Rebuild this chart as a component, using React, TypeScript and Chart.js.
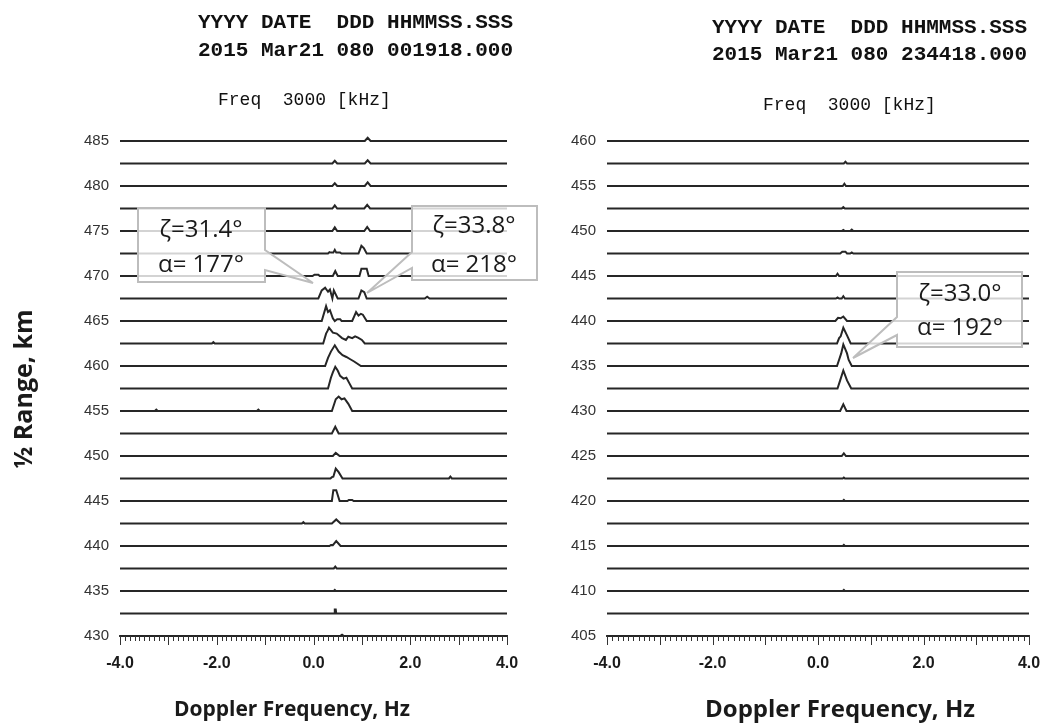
import React, { useEffect, useRef } from "react";
import { Chart, registerables } from "chart.js";
Chart.register(...registerables);

// ---------- data ----------
const FREQ_MIN = -4;
const FREQ_MAX = 4;
const MINOR_STEP = 0.1;
const X_TICKS = [-4, -2, 0, 2, 4];

const LEFT_Y_MIN = 430;
const LEFT_Y_MAX = 487;
const LEFT_Y_TICKS = [430, 435, 440, 445, 450, 455, 460, 465, 470, 475, 480, 485];
const LEFT_RANGES = [485, 482.5, 480, 477.5, 475, 472.5, 470, 467.5, 465, 462.5, 460, 457.5, 455, 452.5, 450, 447.5, 445, 442.5, 440, 437.5, 435, 432.5, 430];
// spectrum points per range: [Doppler Hz, amplitude (km above baseline)]
const LEFT_SPECTRA: number[][][] = [
  [[1.06, 0], [1.12, 0.35], [1.18, 0]],
  [[0.39, 0], [0.44, 0.3], [0.49, 0], [1.06, 0], [1.12, 0.35], [1.18, 0]],
  [[0.39, 0], [0.44, 0.3], [0.49, 0], [1.06, 0], [1.12, 0.4], [1.18, 0]],
  [[0.39, 0], [0.44, 0.35], [0.49, 0], [1.05, 0], [1.11, 0.4], [1.17, 0]],
  [[0.39, 0], [0.44, 0.4], [0.49, 0], [1.05, 0], [1.11, 0.45], [1.17, 0]],
  [[0.3, 0], [0.33, 0.15], [0.36, 0.1], [0.41, 0.1], [0.44, 0.4], [0.47, 0.1], [0.55, 0.1], [0.58, 0], [0.93, 0], [0.99, 0.85], [1.04, 0.6], [1.1, 0]],
  [[-0.02, 0], [0.02, 0.15], [0.1, 0.15], [0.13, 0], [0.4, 0], [0.45, 0.55], [0.5, 0], [0.95, 0], [0.99, 0.8], [1.1, 0.8], [1.14, 0]],
  [[0.1, 0], [0.17, 0.9], [0.24, 1.2], [0.3, 0.75], [0.34, 1.0], [0.39, 0], [0.42, 0.9], [0.5, 0], [0.93, 0], [0.99, 0.9], [1.05, 0.7], [1.1, 0], [2.3, 0], [2.35, 0.2], [2.4, 0]],
  [[0.17, 0], [0.26, 1.65], [0.3, 1.0], [0.34, 1.2], [0.4, 0.3], [0.44, 0], [0.49, 0.2], [0.55, 0.2], [0.58, 0], [0.8, 0], [0.88, 1.0], [0.93, 0.6], [0.98, 0.8], [1.02, 0.7], [1.1, 0]],
  [[-2.1, 0], [-2.07, 0.15], [-2.04, 0], [0.2, 0], [0.26, 1.1], [0.29, 1.4], [0.32, 1.75], [0.4, 1.2], [0.48, 1.1], [0.59, 0.6], [0.67, 0.4], [0.72, 0.75], [0.8, 0.6], [0.86, 0.8], [0.92, 0.65], [1.0, 0.4], [1.06, 0]],
  [[0.24, 0], [0.3, 0.9], [0.36, 1.6], [0.44, 2.3], [0.52, 1.6], [0.6, 1.2], [0.68, 1.0], [0.76, 0.75], [0.84, 0.5], [0.98, 0]],
  [[0.3, 0], [0.36, 1.2], [0.4, 1.8], [0.45, 2.4], [0.5, 2.0], [0.55, 1.4], [0.62, 1.1], [0.68, 1.2], [0.74, 0.6], [0.8, 0]],
  [[-3.28, 0], [-3.25, 0.15], [-3.22, 0], [-1.17, 0], [-1.14, 0.15], [-1.11, 0], [0.38, 0], [0.46, 1.3], [0.52, 1.6], [0.58, 1.3], [0.64, 1.4], [0.72, 0.8], [0.8, 0]],
  [[0.38, 0], [0.45, 0.75], [0.52, 0]],
  [[0.4, 0], [0.46, 0.35], [0.54, 0]],
  [[0.35, 0], [0.38, 0.15], [0.41, 0.2], [0.46, 1.1], [0.52, 0.7], [0.6, 0], [2.8, 0], [2.83, 0.2], [2.86, 0]],
  [[0.38, 0], [0.41, 1.2], [0.47, 1.2], [0.54, 0], [0.7, 0], [0.73, 0.12], [0.8, 0.12], [0.83, 0]],
  [[-0.24, 0], [-0.21, 0.15], [-0.18, 0], [0.38, 0], [0.47, 0.45], [0.56, 0]],
  [[0.33, 0], [0.36, 0.12], [0.4, 0.1], [0.47, 0.55], [0.56, 0]],
  [[0.42, 0], [0.45, 0.2], [0.48, 0]],
  [[0.42, 0], [0.44, 0.12], [0.46, 0]],
  [[0.43, 0], [0.44, 0.45], [0.46, 0.45], [0.47, 0]],
  [[0.55, 0], [0.59, 0.15], [0.63, 0]],
];

const RIGHT_Y_MIN = 405;
const RIGHT_Y_MAX = 462;
const RIGHT_Y_TICKS = [405, 410, 415, 420, 425, 430, 435, 440, 445, 450, 455, 460];
const RIGHT_RANGES = [460, 457.5, 455, 452.5, 450, 447.5, 445, 442.5, 440, 437.5, 435, 432.5, 430, 427.5, 425, 422.5, 420, 417.5, 415, 412.5, 410, 407.5, 405];
const RIGHT_SPECTRA: number[][][] = [
  [],
  [[0.49, 0], [0.52, 0.2], [0.55, 0]],
  [[0.47, 0], [0.5, 0.25], [0.53, 0]],
  [[0.45, 0], [0.48, 0.15], [0.51, 0]],
  [[0.45, 0], [0.48, 0.12], [0.51, 0], [0.61, 0], [0.64, 0.15], [0.67, 0]],
  [[0.42, 0], [0.46, 0.2], [0.52, 0.2], [0.55, 0], [0.61, 0], [0.64, 0.12], [0.67, 0]],
  [[0.34, 0], [0.37, 0.25], [0.4, 0]],
  [[0.34, 0], [0.37, 0.12], [0.4, 0], [0.45, 0], [0.48, 0.25], [0.51, 0]],
  [[0.33, 0], [0.38, 0.35], [0.43, 0.3], [0.48, 0.5], [0.55, 0]],
  [[0.36, 0], [0.4, 0.6], [0.43, 0.8], [0.48, 1.75], [0.55, 0.9], [0.62, 0]],
  [[0.36, 0], [0.4, 0.7], [0.44, 1.4], [0.48, 2.4], [0.55, 1.4], [0.58, 0.7], [0.64, 0]],
  [[0.37, 0], [0.42, 0.9], [0.48, 2.0], [0.55, 0.9], [0.63, 0]],
  [[0.42, 0], [0.48, 0.75], [0.54, 0]],
  [],
  [[0.45, 0], [0.49, 0.3], [0.53, 0]],
  [[0.47, 0], [0.49, 0.1], [0.51, 0]],
  [[0.47, 0], [0.49, 0.12], [0.51, 0]],
  [],
  [[0.47, 0], [0.49, 0.12], [0.51, 0]],
  [],
  [[0.47, 0], [0.49, 0.12], [0.51, 0]],
  [],
  [],
];

// ---------- chart ----------
const minorTicks = {
  id: "minorTicks",
  afterDraw(chart: any) {
    const s = chart.scales.x;
    const ctx = chart.ctx;
    const y0 = s.top;
    const n = Math.round((FREQ_MAX - FREQ_MIN) / MINOR_STEP);
    ctx.save();
    ctx.strokeStyle = "#333";
    ctx.lineWidth = 1;
    for (let i = 0; i <= n; i++) {
      const v = FREQ_MIN + i * MINOR_STEP;
      const px = Math.round(s.getPixelForValue(v)) + 0.5;
      const len = i % 10 === 0 ? 9 : 5;
      ctx.beginPath();
      ctx.moveTo(px, y0);
      ctx.lineTo(px, y0 + len);
      ctx.stroke();
    }
    ctx.restore();
  },
};

function buildChart(
  canvas: HTMLCanvasElement,
  ranges: number[],
  spectra: number[][][],
  yMin: number,
  yMax: number,
  yTicks: number[],
  yWidth: number,
  padRight: number
) {
  const datasets = ranges.map((r, i) => ({
    label: String(r),
    data: [
      { x: FREQ_MIN, y: r },
      ...spectra[i].map(([f, a]) => ({ x: f, y: r + a })),
      { x: FREQ_MAX, y: r },
    ],
    borderColor: "#262626",
    borderWidth: 2,
    pointRadius: 0,
    tension: 0,
    fill: false,
    clip: false as any,
  }));
  return new Chart(canvas, {
    type: "line",
    data: { datasets },
    plugins: [minorTicks],
    options: {
      animation: false,
      responsive: false,
      maintainAspectRatio: false,
      events: [],
      layout: { padding: { top: 123, right: padRight, bottom: 0, left: 0 } },
      plugins: {
        legend: { display: false },
        tooltip: { enabled: false },
        title: { display: false },
      },
      scales: {
        x: {
          type: "linear",
          min: FREQ_MIN,
          max: FREQ_MAX,
          grid: { display: false, drawTicks: false },
          border: { display: true, color: "#333", width: 2 },
          afterBuildTicks: (s: any) => {
            s.ticks = X_TICKS.map((v) => ({ value: v }));
          },
          afterFit: (s: any) => {
            s.height = 91;
          },
          ticks: {
            padding: 18,
            autoSkip: false,
            maxRotation: 0,
            color: "#1a1a1a",
            font: { family: "Liberation Sans", size: 16, weight: "bold" },
            callback: (v: any) => Number(v).toFixed(1),
          },
        },
        y: {
          type: "linear",
          min: yMin,
          max: yMax,
          grid: { display: false, drawTicks: false },
          border: { display: false },
          afterBuildTicks: (s: any) => {
            s.ticks = yTicks.map((v) => ({ value: v }));
          },
          afterFit: (s: any) => {
            s.width = yWidth;
          },
          ticks: {
            padding: 11,
            color: "#333",
            font: { family: "Liberation Sans", size: 15 },
            callback: (v: any) => String(v),
          },
        },
      } as any,
    },
  });
}

function Panel(props: {
  left: number;
  width: number;
  ranges: number[];
  spectra: number[][][];
  yMin: number;
  yMax: number;
  yTicks: number[];
  yWidth: number;
  padRight: number;
}) {
  const ref = useRef<HTMLCanvasElement | null>(null);
  useEffect(() => {
    if (!ref.current) return;
    const c = buildChart(ref.current, props.ranges, props.spectra, props.yMin, props.yMax, props.yTicks, props.yWidth, props.padRight);
    return () => c.destroy();
  }, []);
  return (
    <canvas
      ref={ref}
      width={props.width}
      height={727}
      style={{ position: "absolute", left: props.left, top: 0, width: props.width, height: 727 }}
    />
  );
}

const mono = { fontFamily: "'Liberation Mono', monospace", color: "#111", whiteSpace: "pre" as const, lineHeight: 1, position: "absolute" as const };
const sans = { fontFamily: "'Open Sans', sans-serif", color: "#1a1a1a", whiteSpace: "pre" as const, lineHeight: 1, position: "absolute" as const };

function Txt(p: { x: number; y: number; style: any; children: any; center?: boolean }) {
  return (
    <div style={{ ...p.style, left: p.x, top: p.y, transform: p.center ? "translate(-50%,-50%)" : "translate(0,-50%)" }}>
      {p.children}
    </div>
  );
}

export default function App() {
  const calloutFill = "rgba(255,255,255,0.8)";
  const calloutStroke = "#bdbdbd";
  return (
    <div style={{ position: "absolute", left: 0, top: 0, width: 1042, height: 727, background: "#fff", overflow: "hidden" }}>
      <Panel left={0} width={540} ranges={LEFT_RANGES} spectra={LEFT_SPECTRA} yMin={LEFT_Y_MIN} yMax={LEFT_Y_MAX} yTicks={LEFT_Y_TICKS} yWidth={120} padRight={33} />
      <Panel left={560} width={510} ranges={RIGHT_RANGES} spectra={RIGHT_SPECTRA} yMin={RIGHT_Y_MIN} yMax={RIGHT_Y_MAX} yTicks={RIGHT_Y_TICKS} yWidth={47} padRight={41} />

      <svg width={1042} height={727} style={{ position: "absolute", left: 0, top: 0, pointerEvents: "none" }}>
        <path d="M138,208 L265,208 L265,250 L313,283 L265,270 L265,282 L138,282 Z" fill={calloutFill} stroke={calloutStroke} strokeWidth={2} />
        <path d="M412,206 L537,206 L537,280 L412,280 L412,268 L367,293 L412,252 Z" fill={calloutFill} stroke={calloutStroke} strokeWidth={2} />
        <path d="M897,272 L1022,272 L1022,347 L897,347 L897,335 L853,358 L897,317 Z" fill={calloutFill} stroke={calloutStroke} strokeWidth={2} />
      </svg>

      <Txt x={198} y={22} style={{ ...mono, fontSize: 21, fontWeight: "bold" }}>YYYY DATE  DDD HHMMSS.SSS</Txt>
      <Txt x={198} y={50} style={{ ...mono, fontSize: 21, fontWeight: "bold" }}>2015 Mar21 080 001918.000</Txt>
      <Txt x={218} y={100} style={{ ...mono, fontSize: 18 }}>Freq  3000 [kHz]</Txt>

      <Txt x={712} y={27} style={{ ...mono, fontSize: 21, fontWeight: "bold" }}>YYYY DATE  DDD HHMMSS.SSS</Txt>
      <Txt x={712} y={54} style={{ ...mono, fontSize: 21, fontWeight: "bold" }}>2015 Mar21 080 234418.000</Txt>
      <Txt x={763} y={105} style={{ ...mono, fontSize: 18 }}>Freq  3000 [kHz]</Txt>

      <Txt x={201} y={228} center style={{ ...sans, fontSize: 24 }}>ζ=31.4°</Txt>
      <Txt x={201} y={263} center style={{ ...sans, fontSize: 24 }}>α= 177°</Txt>
      <Txt x={474} y={224} center style={{ ...sans, fontSize: 24 }}>ζ=33.8°</Txt>
      <Txt x={474} y={263} center style={{ ...sans, fontSize: 24 }}>α= 218°</Txt>
      <Txt x={960} y={292} center style={{ ...sans, fontSize: 24 }}>ζ=33.0°</Txt>
      <Txt x={960} y={326} center style={{ ...sans, fontSize: 24 }}>α= 192°</Txt>

      <div style={{ ...sans, fontSize: 25, fontWeight: "bold", left: 22, top: 389, transform: "translate(-50%,-50%) rotate(-90deg)" }}>½ Range, km</div>
      <Txt x={292} y={708} center style={{ ...sans, fontSize: 21, fontWeight: "bold" }}>Doppler Frequency, Hz</Txt>
      <Txt x={840} y={708} center style={{ ...sans, fontSize: 24, fontWeight: "bold" }}>Doppler Frequency, Hz</Txt>
    </div>
  );
}
